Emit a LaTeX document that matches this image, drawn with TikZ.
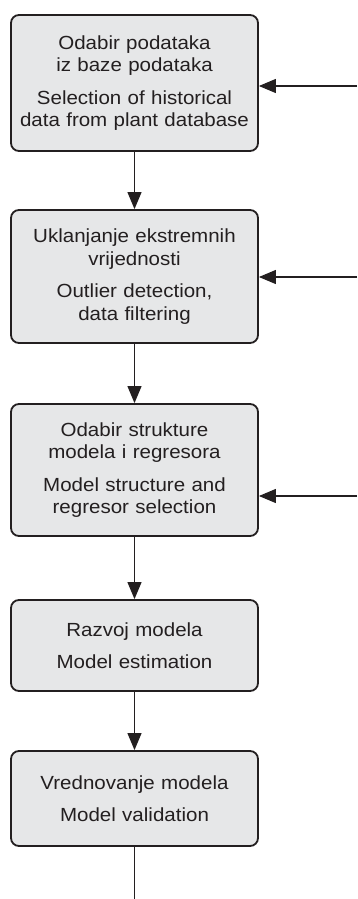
\documentclass[tikz,border=0pt]{standalone}
\usepackage{fontspec}
\setmainfont[FakeStretch=1.08]{Liberation Sans}
\usetikzlibrary{arrows.meta, positioning}
\definecolor{boxfill}{HTML}{E6E7E8}
\definecolor{boxline}{HTML}{231F20}
\tikzset{
  stage/.style={draw=boxline, fill=boxfill, rounded corners=8pt, line width=1.8pt, align=center, minimum width=247pt, text width=244pt, inner sep=0pt},
  arrow/.style={-{Triangle[length=17pt, width=14pt]}, line width=1.1pt, boxline},
  every node/.style={font=\fontsize{19}{22.5}\selectfont, text=boxline}
}

\begin{document}
\begin{tikzpicture}[x=1pt, y=-1pt]
    \useasboundingbox (0,0) rectangle (357,899);
    % stages of model development
    \node[stage, minimum height=136pt] (b1) at (134.5,83) {Odabir podataka\\iz baze podataka\\[10pt]Selection of historical\\data from plant database};
    \node[stage, minimum height=133pt] (b2) at (134.5,276.5) {Uklanjanje ekstremnih\\vrijednosti\\[10pt]Outlier detection,\\data filtering};
    \node[stage, minimum height=132pt] (b3) at (134.5,470) {Odabir strukture\\modela i regresora\\[10pt]Model structure and\\regresor selection};
    \node[stage, minimum height=91pt] (b4) at (134.5,645.5) {Razvoj modela\\[10pt]Model estimation};
    \node[stage, minimum height=95pt] (b5) at (134.5,798.5) {Vrednovanje modela\\[10pt]Model validation};
    % main flow
    \draw[arrow] (b1) -- (b2);
    \draw[arrow] (b2) -- (b3);
    \draw[arrow] (b3) -- (b4);
    \draw[arrow] (b4) -- (b5);
    \coordinate (out) at (134.5,899);
    \draw[line width=1.1pt, boxline] (b5) -- (out);
    % feedback inputs from the right
    \coordinate (in1) at (357,86);
    \coordinate (in2) at (357,277);
    \coordinate (in3) at (357,496);
    \draw[arrow] (in1) -- (in1 -| b1.east);
    \draw[arrow] (in2) -- (in2 -| b2.east);
    \draw[arrow] (in3) -- (in3 -| b3.east);
\end{tikzpicture}
\end{document}
